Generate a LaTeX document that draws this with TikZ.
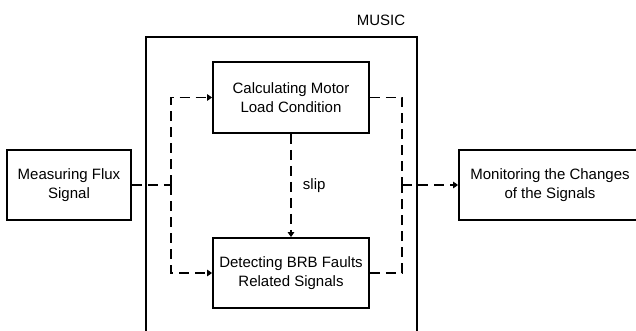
\documentclass[tikz,border=0pt]{standalone}
\usepackage{fontspec}
\setmainfont{Liberation Sans}
\usetikzlibrary{arrows.meta}
\begin{document}
\begin{tikzpicture}[x=1pt,y=-1pt,
  box/.style={draw,line width=1.8pt,align=center,inner sep=0pt,font=\fontsize{15}{18.5}\selectfont},
  flow/.style={line width=1.2pt,dash pattern=on 10pt off 6pt,-{Triangle[length=5pt,width=6.5pt]}},
  link/.style={line width=1.2pt,dash pattern=on 10pt off 6pt}]
\useasboundingbox (0,0) rectangle (636,331);
\clip (0,0) rectangle (636,331);
% MUSIC frame (open at bottom)
\draw[line width=1.8pt] (146,340) -- (146,37) -- (417,37) -- (417,340);
\node[font=\fontsize{15}{17}\selectfont] (music) at (381,20) {MUSIC};
\node[box,minimum width=124pt,minimum height=70pt] (meas) at (69,185) {Measuring Flux\\Signal};
\node[box,minimum width=156pt,minimum height=71pt] (calc) at (291,97.5) {Calculating Motor\\Load Condition};
\node[box,minimum width=156pt,minimum height=70pt] (det) at (291,273) {Detecting BRB Faults\\Related Signals};
\node[box,minimum width=182pt,minimum height=70pt] (mon) at (550,185) {Monitoring the Changes\\of the Signals};
\coordinate (jl) at (171,185);
\coordinate (jr) at (402,185);
\draw[link] (meas.east) -- (jl);
\draw[flow] (jl) |- (calc.west);
\draw[flow] (jl) |- (det.west);
\draw[link] (calc.east) -| (jr);
\draw[link] (det.east) -| (jr);
\draw[flow] (jr) -- (mon.west);
\draw[flow] (calc.south) -- node[right=8pt,font=\fontsize{15}{17}\selectfont] (slip) {slip} (det.north);
\end{tikzpicture}
\end{document}
